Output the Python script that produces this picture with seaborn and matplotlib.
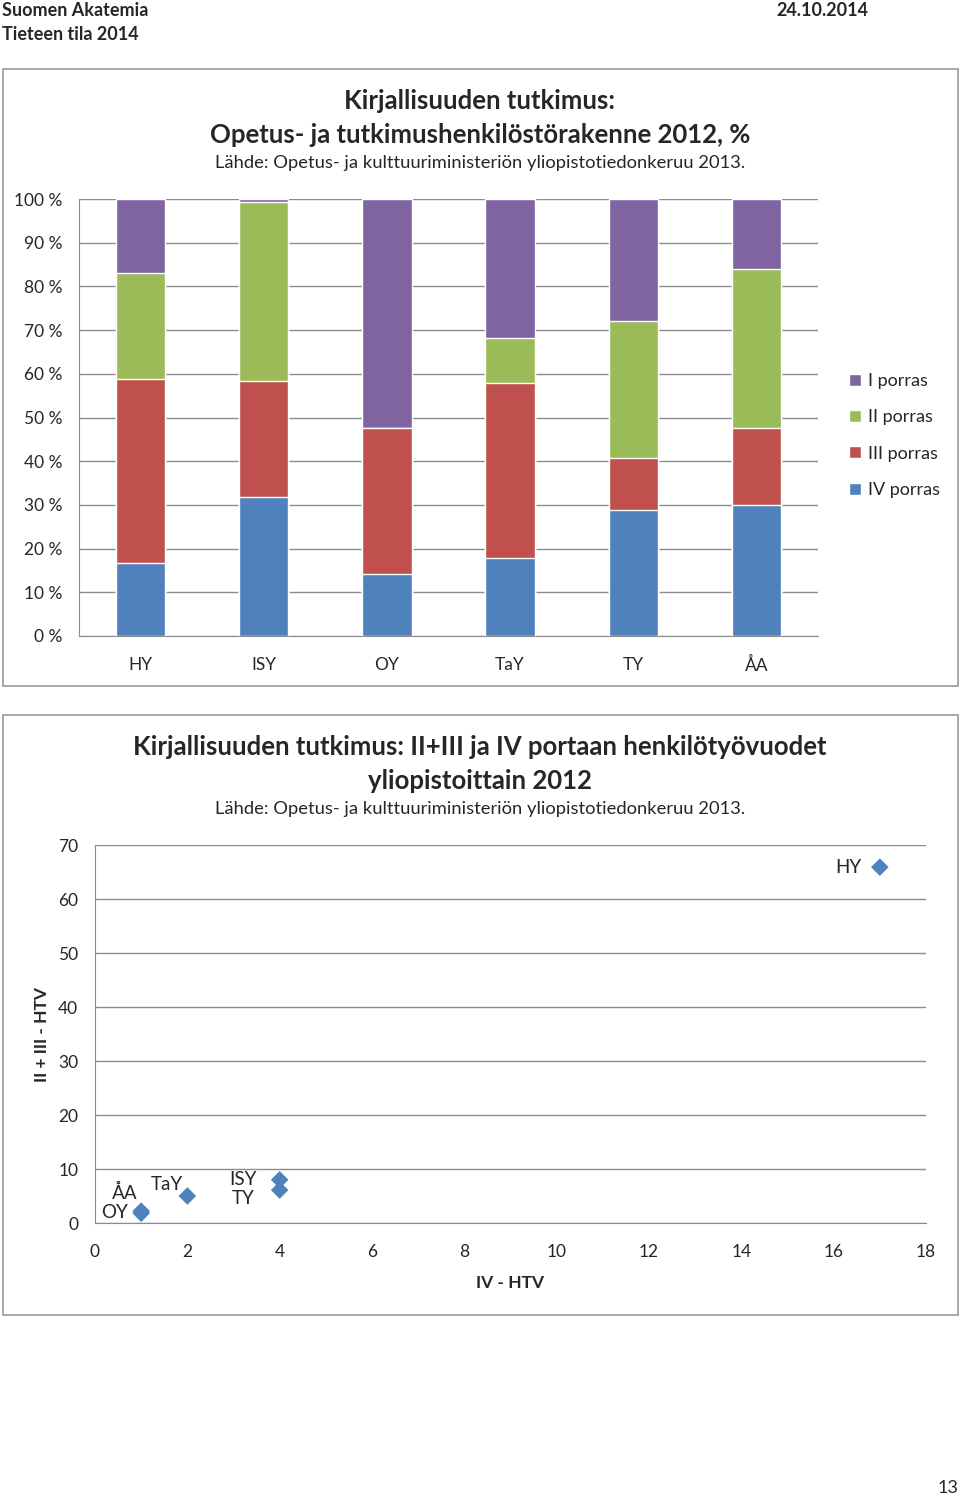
import matplotlib
matplotlib.use("Agg")
import matplotlib.pyplot as plt
from matplotlib.patches import Rectangle, Patch
import seaborn as sns
import pandas as pd
import numpy as np

# data
universities = ["HY", "ISY", "OY", "TaY", "TY", "ÅA"]
porras_iv = [16.7, 31.8, 14.2, 17.8, 28.8, 30.0]
porras_iii = [42.1, 26.6, 33.4, 40.1, 11.9, 17.6]
porras_ii = [24.3, 40.9, 0.0, 10.3, 31.4, 36.4]
porras_i = [16.9, 0.7, 52.4, 31.8, 27.9, 16.0]

scatter_names = ["HY", "ISY", "OY", "TaY", "TY", "ÅA"]
iv_htv = [17.0, 4.0, 1.0, 2.0, 4.0, 1.0]
ii_iii_htv = [65.9, 8.0, 1.8, 5.0, 6.1, 2.2]

sns.set_style("white")
plt.rcParams['font.family'] = ['Lato', 'DejaVu Sans']

colors = {"I porras": "#8064A2", "II porras": "#9BBB59",
          "III porras": "#C0504D", "IV porras": "#4F81BD"}
grid_c = "#8c8c8c"
W, H = 960, 1497

fig = plt.figure(figsize=(9.6, 14.97), dpi=100)

def fx(px):
    return px / W

def fy(py):
    return 1 - py / H

# header
fig.text(fx(2), fy(10), "Suomen Akatemia", fontsize=13, fontweight="bold", va="center")
fig.text(fx(2), fy(34), "Tieteen tila 2014", fontsize=13, fontweight="bold", va="center")
fig.text(fx(868), fy(10), "24.10.2014", fontsize=13, fontweight="bold", va="center", ha="right")
fig.text(fx(958), fy(1488), "13", fontsize=13, va="center", ha="right")

# panel frames
for top, bot in [(69, 686), (715, 1315)]:
    fig.patches.append(Rectangle((fx(3), fy(bot)), fx(955), (bot - top) / H,
                                 transform=fig.transFigure, fill=False,
                                 edgecolor="#9a9a9a", lw=1.2))

# ---- stacked bar chart ----
ax1 = fig.add_axes([fx(79), fy(636), fx(818 - 79), (636 - 199) / H])
df = pd.DataFrame({"uni": universities, "IV porras": porras_iv, "III porras": porras_iii,
                   "II porras": porras_ii, "I porras": porras_i})
stack = df[["IV porras", "III porras", "II porras", "I porras"]].cumsum(axis=1)
stack["uni"] = df["uni"]
for col in ["I porras", "II porras", "III porras", "IV porras"]:
    sns.barplot(data=stack, x="uni", y=col, color=colors[col], width=0.4,
                saturation=1, ax=ax1, zorder=3)
ax1.set_xlim(-0.5, 5.5)
ax1.set_ylim(0, 100)
ax1.set_yticks(np.arange(0, 101, 10))
ax1.set_yticklabels([f"{v} %" for v in range(0, 101, 10)], fontsize=12.5)
ax1.set_xticks(range(6))
ax1.set_xticklabels(universities, fontsize=12.5)
ax1.set_xticks(np.arange(-0.5, 6, 1), minor=True)
ax1.tick_params(axis="x", which="major", length=0, pad=15)
ax1.tick_params(axis="x", which="minor", length=5, color=grid_c, direction="out")
ax1.tick_params(axis="y", length=5, color=grid_c, direction="out", pad=7)
ax1.grid(axis="y", color=grid_c, lw=1, zorder=0)
ax1.set_axisbelow(True)
ax1.set_xlabel("")
ax1.set_ylabel("")
for s in ["top", "right"]:
    ax1.spines[s].set_visible(False)
for s in ["left", "bottom"]:
    ax1.spines[s].set_color(grid_c)

fig.text(fx(480), fy(101), "Kirjallisuuden tutkimus:", fontsize=18.5, fontweight="bold",
         ha="center", va="center")
fig.text(fx(480), fy(135), "Opetus- ja tutkimushenkilöstörakenne 2012, %", fontsize=18.5,
         fontweight="bold", ha="center", va="center")
fig.text(fx(480), fy(163), "Lähde: Opetus- ja kulttuuriministeriön yliopistotiedonkeruu 2013.",
         fontsize=13.2, ha="center", va="center")

handles = [Patch(facecolor=colors[k], label=k) for k in ["I porras", "II porras", "III porras", "IV porras"]]
fig.legend(handles=handles, loc="upper left", bbox_to_anchor=(fx(842), fy(366)),
           frameon=False, fontsize=13, handlelength=0.65, handleheight=0.65,
           handletextpad=0.4, labelspacing=1.12, borderaxespad=0)

# ---- scatter chart ----
ax2 = fig.add_axes([fx(95), fy(1223), fx(926 - 95), (1223 - 845) / H])
sdf = pd.DataFrame({"name": scatter_names, "iv": iv_htv, "ii_iii": ii_iii_htv})
sns.scatterplot(data=sdf, x="iv", y="ii_iii", marker="D", s=80, color="#4F81BD",
                edgecolor="none", ax=ax2, zorder=3, clip_on=False)
ax2.set_xlim(0, 18)
ax2.set_ylim(0, 70)
ax2.set_xticks(np.arange(0, 19, 2))
ax2.set_yticks(np.arange(0, 71, 10))
ax2.tick_params(axis="both", labelsize=12.5, length=5, color=grid_c, direction="out", pad=7)
ax2.tick_params(axis="x", pad=10)
ax2.grid(axis="y", color=grid_c, lw=1, zorder=0)
ax2.set_axisbelow(True)
for s in ["top", "right"]:
    ax2.spines[s].set_visible(False)
for s in ["left", "bottom"]:
    ax2.spines[s].set_color(grid_c)
ax2.set_xlabel("IV - HTV", fontsize=12.5, fontweight="bold", labelpad=11)
ax2.set_ylabel("II + III - HTV", fontsize=12.5, fontweight="bold", labelpad=6)

label_offsets = {"HY": (-18, 0, "right"), "ISY": (-37, 0, "center"), "OY": (-13, 1, "right"),
                 "TaY": (-4, 12, "right"), "TY": (-36, -8, "center"), "ÅA": (-4, 18, "right")}
for name, xv, yv in zip(scatter_names, iv_htv, ii_iii_htv):
    dx, dy, ha = label_offsets[name]
    ax2.annotate(name, (xv, yv), xytext=(dx, dy), textcoords="offset pixels",
                 ha=ha, va="center", fontsize=13.5)

fig.text(fx(480), fy(747), "Kirjallisuuden tutkimus: II+III ja IV portaan henkilötyövuodet",
         fontsize=18.5, fontweight="bold", ha="center", va="center")
fig.text(fx(480), fy(781), "yliopistoittain 2012", fontsize=18.5, fontweight="bold",
         ha="center", va="center")
fig.text(fx(480), fy(809), "Lähde: Opetus- ja kulttuuriministeriön yliopistotiedonkeruu 2013.",
         fontsize=13.2, ha="center", va="center")

fig.savefig("out.png", dpi=100)
